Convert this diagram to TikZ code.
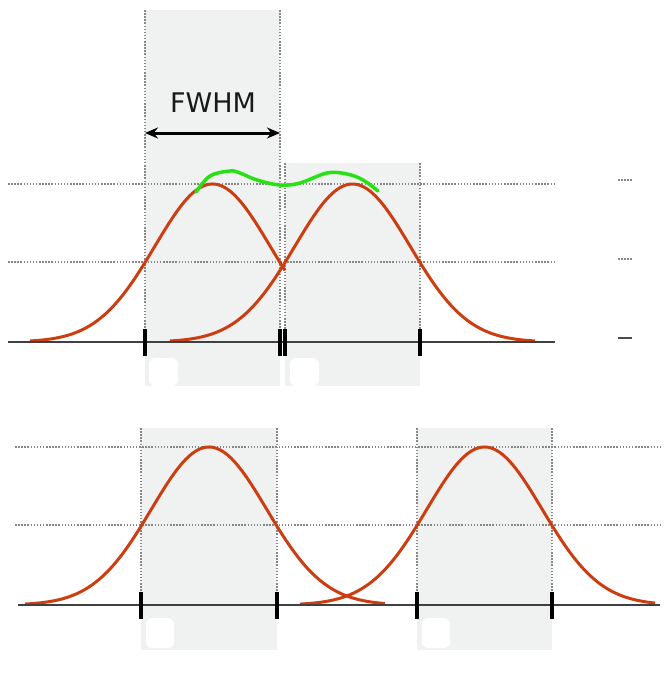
\documentclass[tikz,border=0pt]{standalone}
\usepackage{fontspec}
\setmainfont{DejaVu Sans}
\usetikzlibrary{arrows.meta}
\definecolor{boxgray}{RGB}{240,241,241}
\definecolor{dotgray}{RGB}{135,135,135}
\definecolor{curvered}{RGB}{204,62,18}
\definecolor{hlgreen}{RGB}{40,225,20}
\tikzset{
  panelbox/.style={fill=boxgray, draw=none},
  guide/.style={draw=dotgray, line width=1.5pt, dash pattern=on 1.5pt off 1.6pt},
  axisline/.style={draw=black!75, line width=2pt},
  tickmark/.style={draw=black, line width=3.5pt},
  gauss/.style={draw=curvered, line width=3pt},
  blob/.style={fill=white, draw=none, rounded corners=6pt},
}
\newcommand{\gcurve}[4]{% from, to, center, baseline
  \draw[gauss] plot[domain=#1:#2, samples=120, smooth]
    (\x, {#4-158*exp(-0.5*((\x-#3)/57.6)^2)});}
\begin{document}
\begin{tikzpicture}[x=1pt, y=-1pt]
\useasboundingbox (0,0) rectangle (668,675);
\fill[white] (0,0) rectangle (668,675);
% ---------- top panel ----------
\fill[panelbox] (145,10) rectangle (280,386);
\fill[panelbox] (285,163) rectangle (420,386);
\draw[guide] (145,10) -- (145,338);
\draw[guide] (280,10) -- (280,338);
\draw[guide] (285,163) -- (285,338);
\draw[guide] (420,163) -- (420,338);
\draw[guide] (8,184) -- (555,184);
\draw[guide] (8,262) -- (555,262);
\draw[guide] (618,180) -- (632,180);
\draw[guide] (618,259) -- (632,259);
\draw[draw=black!70, line width=2.5pt] (618,338) -- (632,338);
\fill[blob] (149,358) rectangle (178,386);
\fill[blob] (290,358) rectangle (319,386);
\gcurve{30}{285}{212.5}{342}
\gcurve{170}{535}{352.5}{342}
\draw[axisline] (8,342) -- (555,342);
\foreach \xx in {145,280,285,420}{\draw[tickmark] (\xx,329) -- (\xx,356);}
\draw[draw=hlgreen, line width=3.5pt, line cap=round] plot[smooth, tension=0.6] coordinates
  {(196,192) (210,176) (230,171) (240,173) (257,180) (280,185) (300,183) (327,173) (347,174) (363,180) (378,191)};
\node[font=\fontsize{27}{30}\selectfont, text=black!90] (fwhm) at (213,103) {FWHM};
\coordinate (fl) at (145,133);
\coordinate (fr) at (280,133);
\draw[line width=3pt, {Stealth[length=13pt,width=11pt]}-{Stealth[length=13pt,width=11pt]}] (fl) -- (fr);
% ---------- bottom panel ----------
\fill[panelbox] (141,428) rectangle (277,650);
\fill[panelbox] (417,428) rectangle (552,650);
\draw[guide] (141,428) -- (141,600);
\draw[guide] (277,428) -- (277,600);
\draw[guide] (417,428) -- (417,600);
\draw[guide] (552,428) -- (552,600);
\draw[guide] (15,447) -- (660,447);
\draw[guide] (15,525) -- (660,525);
\fill[blob] (146,618) rectangle (174,648);
\fill[blob] (422,618) rectangle (450,648);
\gcurve{25}{385}{209}{605}
\gcurve{300}{655}{484.5}{605}
\draw[axisline] (18,605) -- (660,605);
\foreach \xx in {141,277,417,552}{\draw[tickmark] (\xx,592) -- (\xx,619);}
\end{tikzpicture}
\end{document}
